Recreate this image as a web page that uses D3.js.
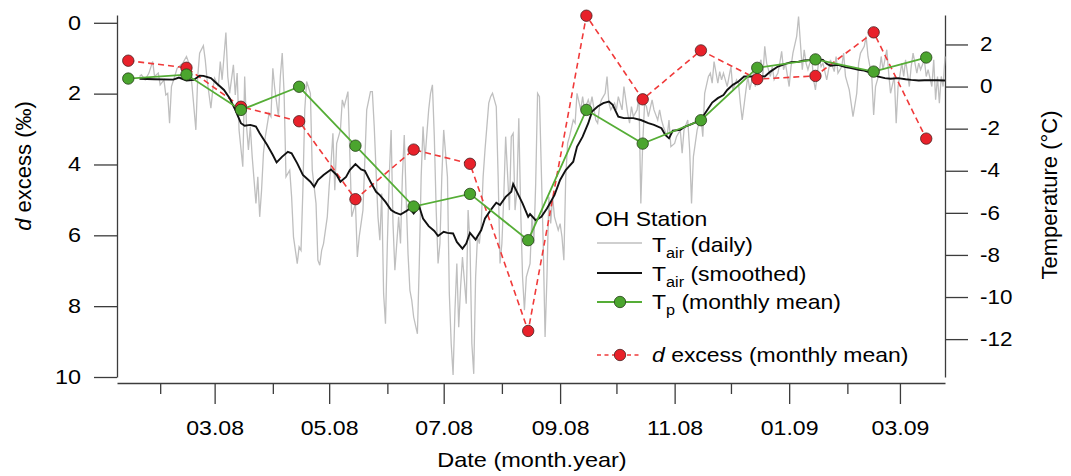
<!DOCTYPE html>
<html><head><meta charset="utf-8">
<script src="https://cdn.jsdelivr.net/npm/d3@7"></script>
<style>
body{margin:0;background:#fff;}
svg{display:block;font-family:"Liberation Sans",Arial,sans-serif;}
</style></head><body>
<svg id="chart" width="1071" height="476"></svg>
<script>
// ---------- DATA ----------
const monthDates = ["2008-01-15","2008-02-15","2008-03-15","2008-04-15","2008-05-15","2008-06-15","2008-07-15","2008-08-15","2008-09-15","2008-10-15","2008-11-15","2008-12-15","2009-01-15","2009-02-15","2009-03-15"];
const dExcessMonthly = [1.07,1.27,2.37,2.78,4.98,3.58,3.98,8.70,-0.20,2.16,0.78,1.59,1.50,0.27,3.27];
const tpMonthly = [0.38,0.57,-1.11,-0.01,-2.81,-5.70,-5.10,-7.30,-1.11,-2.71,-1.60,0.89,1.29,0.71,1.38];

const seriesStart = "2008-01-09";
const seriesEnd = "2009-03-25";
// daily air temperature: day offset from seriesStart, value (°C)
const dailyDay = [12,13,15,17,19,20,22,23,25,26,27,28,29,31,32,35,37,39,40,42,43,44,46,47,48,50,51,52,54,55,56,58,59,60,62,63,64,65,67,68,69,70,71,72,74,75,76,77,78,79,81,82,83,84,86,87,88,89,90,92,93,94,96,97,98,99,100,101,103,104,106,107,108,109,
110,112,113,114,115,116,117,119,120,121,123,124,125,127,128,129,131,132,133,135,136,137,139,140,141,142,143,144,145,146,147,148,150,151,152,153,154,155,156,157,158,160,161,162,163,164,166,167,168,169,170,171,172,173,174,176,177,178,179,180,181,182,183,184,186,187,188,189,190,191,192,193,194,195,196,198,199,200,201,202,203,204,205,206,207,209,210,211,212,213,214,215,216,217,218,219,220,
221,222,223,224,225,227,228,229,230,231,232,233,235,236,237,238,239,240,241,243,244,245,247,248,249,251,252,253,255,256,257,258,260,261,262,263,265,266,267,269,270,272,273,274,275,277,278,279,280,281,282,283,285,286,288,289,290,291,293,294,295,297,298,300,301,302,304,305,306,307,308,309,311,312,313,315,316,317,318,320,321,322,323,325,326,327,328,330,
331,332,333,335,336,337,339,340,341,343,344,345,346,348,349,350,352,353,354,355,356,358,359,360,362,363,364,365,366,367,368,370,371,372,374,375,376,378,379,380,382,383,384,386,387,388,390,391,392,394,395,396,398,399,400,402,403,404,406,407,408,410,411,412,414,415,416,418,419,420,422,423,424,426,427,428,430,431,432,434,435,436,437,438,439,440,441];
const dailyT = [0.48,0.56,0.32,0.64,1.19,0.48,0.64,0.08,0.32,-0.40,-0.32,-1.74,0.00,0.56,0.87,1.11,1.43,0.95,0.00,-2.06,0.48,1.59,1.94,1.27,0.32,-1.03,-0.16,0.40,0.00,1.19,0.32,2.57,0.48,-0.32,1.03,-0.40,0.64,-2.06,-3.81,0.48,-1.90,-3.01,-1.90,-3.33,-5.55,-4.29,-6.19,-4.92,-3.17,-2.38,-1.27,-1.43,0.87,-0.08,-1.43,0.48,1.59,-0.32,-4.29,-3.97,-5.24,-7.14,-8.41,-7.62,-7.78,-4.92,-1.11,0.24,-0.32,-3.97,-5.55,-8.25,-8.49,-7.78,
-7.46,-6.19,-4.76,-3.65,-2.22,-4.92,-2.70,-2.06,-0.63,-0.95,-0.24,-3.17,-6.19,-5.55,-8.10,-7.14,-5.87,-3.49,-1.11,-0.24,-0.24,-1.90,-6.19,-7.30,-5.08,-9.84,-11.27,-7.46,-4.29,-2.06,-6.51,-8.73,-6.19,-7.46,-4.29,-2.30,-5.24,-7.94,-9.68,-10.16,-10.95,-11.75,-8.41,-4.29,-1.90,-3.49,-1.11,-0.32,0.08,-2.38,-5.87,-8.41,-7.46,-4.29,-2.06,-4.29,-9.84,-12.22,-13.70,-10.63,-8.41,-11.43,-9.52,-8.10,-10.32,-5.87,-7.46,-12.22,-13.65,-9.05,-7.14,-7.46,-6.51,-4.29,-3.01,-0.79,-0.48,-0.32,-0.63,-0.95,-4.29,-8.41,-7.46,-5.24,-2.38,-5.87,-2.38,-2.22,-5.87,-4.92,-1.51,-5.87,-9.05,-10.63,-9.05,-8.73,-8.41,
-6.19,-7.46,-4.60,-0.32,-0.48,-7.46,-11.90,-9.05,-5.24,-6.51,-5.24,-6.19,-6.82,-6.51,-7.14,-8.25,-4.29,-2.70,-2.38,-1.59,-1.74,-0.32,-1.11,-0.48,-1.11,-0.63,-0.95,-0.48,-1.59,-1.74,-0.95,-0.63,-0.32,0.48,-0.79,-1.11,-0.79,-1.11,-0.48,-1.11,0.00,-1.27,-1.74,-0.95,-1.43,-1.11,-0.48,-5.55,-2.70,-0.79,-0.95,-1.43,-0.63,-1.11,-1.59,-1.11,-1.59,-1.90,-2.38,-1.59,-2.86,-2.70,-2.38,-2.06,-3.17,-2.06,-1.59,-3.01,-5.55,-3.33,-2.70,-2.06,-1.43,-2.38,-0.32,0.48,0.64,0.16,1.19,0.16,0.71,0.32,0.64,0.00,0.48,0.95,-0.16,0.32,
0.16,-0.79,-1.59,-0.16,0.48,-0.16,0.64,0.00,0.80,1.27,0.48,1.91,1.11,0.48,0.95,0.32,0.64,1.11,1.67,0.80,1.11,0.00,0.95,1.59,2.38,3.33,2.06,0.80,1.75,1.11,0.80,1.43,0.32,-0.16,1.43,0.95,1.11,0.32,0.80,1.27,0.71,1.43,0.64,0.95,1.59,0.48,-0.16,-0.79,-1.43,-0.32,1.11,1.59,1.91,2.38,1.43,0.48,-1.35,0.00,0.64,1.43,0.80,1.75,0.64,-0.32,0.48,-1.74,0.00,1.11,0.48,1.27,0.00,0.95,1.59,0.64,1.11,0.80,1.27,0.48,0.80,0.00,1.27,-0.63,0.48,-0.79,0.48,0.00,1.43];
// smoothed air temperature
const smoothDay = [12,20,30,33,37,41,44,46,50,53,57,60,63,66,68,71,74,76,80,83,85,88,91,93,96,99,103,105,107,110,114,117,119,122,124,127,130,132,135,138,140,143,146,148,151,154,156,158,161,163,166,169,171,174,176,179,181,184,186,188,191,194,196,199,202,204,207,210,211,213,216,219,220,223,226,229,233,236,239,243,245,248,251,253,256,259,262,264,267,270,275,279,283,286,290,292,294,296,300,302,306,309,312,315,317,320,323,325,328,331,334,338,341,345,348,352,356,359,363,366,370,373,376,378,380,384,388,391,395,398,402,405,409,412,416,420,423,427,430,434,437,441];
const smoothT = [0.37,0.35,0.33,0.43,0.29,0.32,0.52,0.51,0.40,0.16,-0.16,-0.55,-1.11,-1.74,-1.86,-1.82,-1.90,-2.22,-2.78,-3.25,-3.60,-3.33,-3.10,-3.17,-3.65,-4.20,-4.52,-4.76,-4.44,-4.20,-3.94,-4.20,-4.52,-4.29,-3.97,-3.68,-3.94,-4.00,-4.52,-5.00,-5.16,-5.48,-5.87,-5.98,-6.08,-5.92,-5.79,-6.03,-5.71,-6.27,-6.63,-6.86,-7.10,-6.90,-6.95,-6.98,-7.38,-7.70,-7.46,-6.95,-7.27,-6.82,-6.27,-5.87,-5.52,-5.63,-5.24,-5.00,-4.63,-5.00,-5.55,-6.19,-6.06,-6.35,-6.19,-5.79,-5.16,-4.44,-3.97,-3.57,-2.86,-2.38,-1.74,-1.19,-0.95,-0.79,-0.71,-0.87,-1.43,-1.50,-1.50,-1.59,-1.74,-1.82,-1.98,-2.30,-2.46,-2.10,-2.06,-1.93,-1.78,-1.67,-1.43,-1.03,-0.76,-0.55,-0.40,-0.16,0.08,0.24,0.48,0.48,0.51,0.48,0.71,0.95,1.08,1.16,1.18,1.24,1.27,1.30,1.27,1.08,0.99,1.03,0.92,0.88,0.80,0.76,0.64,0.48,0.40,0.37,0.40,0.35,0.32,0.29,0.30,0.30,0.30,0.29];

const majorTickDates = ["2008-03-01","2008-05-01","2008-07-01","2008-09-01","2008-11-01","2009-01-01","2009-03-01"];
const minorTickDates = ["2008-02-01","2008-04-01","2008-06-01","2008-08-01","2008-10-01","2008-12-01","2009-02-01"];
const dTicks = [0,2,4,6,8,10];
const tTicks = [2,0,-2,-4,-6,-8,-10,-12];

// ---------- DRAWING ----------
const parse = d3.utcParse("%Y-%m-%d");
const start = parse(seriesStart);
const svg = d3.select("#chart");

const x = d3.scaleUtc().domain([start, parse(seriesEnd)]).range([117, 945]);
const yD = d3.scaleLinear().domain([-0.22, 10]).range([15, 377]);
const yT = d3.scaleLinear().domain([3.4, -13.8]).range([15, 377]);

const axisColor = "#3c3c3c";
function stretch(sel, k, origin){
  sel.style("transform-box","fill-box").style("transform-origin",origin).style("transform",`scaleX(${k})`);
}

// left axis
const gL = svg.append("g").attr("transform","translate(117,0)")
  .call(d3.axisLeft(yD).tickValues(dTicks).tickSize(23).tickSizeOuter(0).tickPadding(13).tickFormat(d=>String(d)));
gL.selectAll("text").attr("font-size",19.5).attr("fill","#000").attr("font-family","Liberation Sans, Arial").call(stretch,1.2,"right center");
// right axis
const gR = svg.append("g").attr("transform","translate(945,0)")
  .call(d3.axisRight(yT).tickValues(tTicks).tickSize(23).tickSizeOuter(0).tickPadding(12).tickFormat(d=>String(d)));
gR.selectAll("text").attr("font-size",19.5).attr("fill","#000").attr("font-family","Liberation Sans, Arial").call(stretch,1.15,"left center");
// bottom axis major
const gB = svg.append("g").attr("transform","translate(0,383)")
  .call(d3.axisBottom(x).tickValues(majorTickDates.map(parse)).tickSize(21).tickSizeOuter(0).tickFormat(d3.utcFormat("%m.%y")));
gB.selectAll("text").attr("font-size",21).attr("fill","#000").attr("font-family","Liberation Sans, Arial")
  .attr("y",52).attr("dy",null).call(stretch,1.1,"center bottom");
// bottom axis minor
const gM = svg.append("g").attr("transform","translate(0,383)")
  .call(d3.axisBottom(x).tickValues(minorTickDates.map(parse)).tickSize(11).tickSizeOuter(0).tickFormat(""));
gM.select(".domain").remove();
svg.selectAll(".domain, .tick line").attr("stroke",axisColor).attr("stroke-width",1.3);

// axis titles
const lt = svg.append("text").attr("transform","translate(31,166) rotate(-90)").attr("text-anchor","middle")
  .attr("font-size",22).attr("fill","#000");
lt.append("tspan").attr("font-style","italic").text("d");
lt.append("tspan").text(" excess (‰)");
svg.append("text").attr("transform","translate(1057,195) rotate(-90)").attr("text-anchor","middle")
  .attr("font-size",22).attr("fill","#000").text("Temperature (°C)");
svg.append("text").attr("x",532).attr("y",467).attr("text-anchor","middle").attr("font-size",21).attr("fill","#000")
  .text("Date (month.year)").call(stretch,1.12,"center bottom");

// series
const dayDate = n => d3.utcDay.offset(start, n);
const daily = dailyDay.map((d,i)=>({date:dayDate(d), v:dailyT[i]}));
const smooth = smoothDay.map((d,i)=>({date:dayDate(d), v:smoothT[i]}));
const monthly = monthDates.map((d,i)=>({date:parse(d), dx:dExcessMonthly[i], tp:tpMonthly[i]}));

const grey = "#bfbfbf", red = "#e8212a", redLine = "#f03a3a", green = "#4ba52e", greenLine = "#55ad36";
const R = 5.7;

svg.append("path").datum(daily).attr("fill","none").attr("stroke",grey).attr("stroke-width",1.3)
  .attr("d", d3.line().x(d=>x(d.date)).y(d=>yT(d.v)));
svg.append("path").datum(monthly).attr("fill","none").attr("stroke",redLine).attr("stroke-width",1.6)
  .attr("stroke-dasharray","6,4").attr("d", d3.line().x(d=>x(d.date)).y(d=>yD(d.dx)));
svg.append("path").datum(smooth).attr("fill","none").attr("stroke","#111").attr("stroke-width",1.9)
  .attr("d", d3.line().x(d=>x(d.date)).y(d=>yT(d.v)));
svg.append("path").datum(monthly).attr("fill","none").attr("stroke",greenLine).attr("stroke-width",1.8)
  .attr("d", d3.line().x(d=>x(d.date)).y(d=>yT(d.tp)));
svg.append("g").selectAll("circle").data(monthly).join("circle")
  .attr("cx",d=>x(d.date)).attr("cy",d=>yD(d.dx)).attr("r",R)
  .attr("fill",red).attr("stroke","#4a2020").attr("stroke-width",0.8);
svg.append("g").selectAll("circle").data(monthly).join("circle")
  .attr("cx",d=>x(d.date)).attr("cy",d=>yT(d.tp)).attr("r",R)
  .attr("fill",green).attr("stroke","#243f18").attr("stroke-width",0.8);

// legend
const lg = svg.append("g");
lg.append("text").attr("x",595).attr("y",226).attr("font-size",20.5).attr("fill","#000").text("OH Station").call(stretch,1.12,"left center");
function legText(y, main, sub, rest, italicFirst){
  const t = lg.append("text").attr("x",652).attr("y",y).attr("font-size",20.5).attr("fill","#000");
  if(italicFirst){ t.append("tspan").attr("font-style","italic").text(main); }
  else t.append("tspan").text(main);
  if(sub){
    t.append("tspan").attr("font-size",14.5).attr("dy",6).text(sub);
    t.append("tspan").attr("dy",-6).text(rest);
  } else t.append("tspan").text(rest);
  t.call(stretch,1.12,"left center");
}
lg.append("line").attr("x1",597).attr("x2",642).attr("y1",243).attr("y2",243).attr("stroke",grey).attr("stroke-width",1.5);
legText(252,"T","air"," (daily)");
lg.append("line").attr("x1",597).attr("x2",642).attr("y1",273).attr("y2",273).attr("stroke","#111").attr("stroke-width",2);
legText(281,"T","air"," (smoothed)");
lg.append("line").attr("x1",597).attr("x2",642).attr("y1",302).attr("y2",302).attr("stroke",greenLine).attr("stroke-width",1.8);
lg.append("circle").attr("cx",620).attr("cy",302).attr("r",R).attr("fill",green).attr("stroke","#243f18").attr("stroke-width",0.8);
legText(309,"T","p"," (monthly mean)");
lg.append("line").attr("x1",597).attr("x2",642).attr("y1",355).attr("y2",355).attr("stroke",redLine).attr("stroke-width",1.6).attr("stroke-dasharray","4,3.5");
lg.append("circle").attr("cx",620).attr("cy",355).attr("r",R).attr("fill",red).attr("stroke","#4a2020").attr("stroke-width",0.8);
legText(362,"d",null," excess (monthly mean)",true);
</script>
</body></html>
